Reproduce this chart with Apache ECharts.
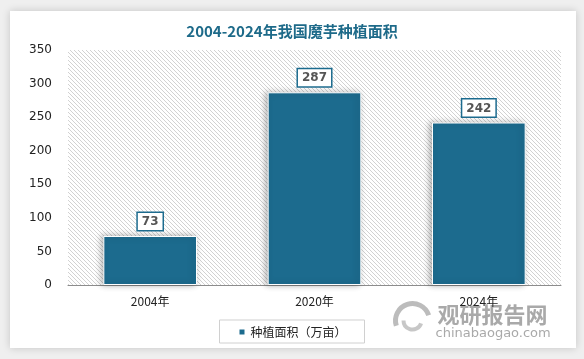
<!DOCTYPE html>
<html><head><meta charset="utf-8">
<script src="https://cdn.jsdelivr.net/npm/echarts@6/dist/echarts.min.js"></script>
<style>html,body{margin:0;padding:0;background:#efefef;}#c{width:584px;height:359px;}</style>
</head><body><div id="c"></div>
<script>
const categories = ['2004年', '2020年', '2024年'];
const values = [73, 287, 242];
const seriesName = '种植面积（万亩）';
const titleText = '2004-2024年我国魔芋种植面积';

const pc = document.createElement('canvas');
pc.width = 4; pc.height = 4;
const g = pc.getContext('2d');
g.fillStyle = '#ffffff'; g.fillRect(0,0,4,4);
g.fillStyle = '#d2d2d2';
for (let i = 0; i < 4; i++) { g.fillRect(i, i, 1, 1); }

const chart = echarts.init(document.getElementById('c'));
chart.setOption({
  backgroundColor: '#efefef',
  graphic: [{
    type: 'rect', left: 10, top: 11, z: -10,
    shape: {width: 566, height: 337},
    style: {fill: '#ffffff', shadowBlur: 8, shadowColor: 'rgba(0,0,0,0.18)'}
  }, {
    type: 'group', left: 393, top: 301, z: 10,
    children: [
      {type: 'arc', shape: {cx: 22, cy: 17, r: 17, startAngle: Math.PI * 0.9, endAngle: Math.PI * 1.9}, style: {stroke: 'rgba(160,160,160,0.7)', lineWidth: 5, fill: null}},
      {type: 'arc', shape: {cx: 22, cy: 17, r: 9, startAngle: Math.PI * 0.1, endAngle: Math.PI * 1.0}, style: {stroke: 'rgba(175,175,175,0.7)', lineWidth: 4, fill: null}},
      {type: 'text', left: 47, top: 0, style: {text: '观研报告网', font: 'bold 22px "Noto Sans CJK SC"', fill: 'rgba(140,140,140,0.75)'}},
      {type: 'text', left: 45, top: 24, style: {text: 'chinabaogao.com', font: '13px "DejaVu Sans"', fill: 'rgba(140,140,140,0.75)'}}
    ]
  }],
  title: {
    text: titleText, left: 'center', top: 19,
    textStyle: {color: '#1d6a89', fontSize: 15, fontWeight: 'bold', fontFamily: '"Noto Sans CJK SC", sans-serif'}
  },
  grid: {
    left: 68, right: 23, top: 50, bottom: 74,
    show: true, borderWidth: 0,
    backgroundColor: {image: pc, repeat: 'repeat'}
  },
  legend: {
    bottom: 16, left: 'center',
    data: [seriesName],
    icon: 'rect', itemWidth: 7, itemHeight: 7, itemGap: 6,
    borderColor: '#d0d0d0', borderWidth: 1, padding: [6, 18, 5, 18],
    textStyle: {color: '#222', fontSize: 12, fontFamily: '"Noto Sans CJK SC", sans-serif'}
  },
  xAxis: {
    type: 'category', data: categories,
    axisLine: {lineStyle: {color: '#8c8c8c', width: 1}},
    axisTick: {show: false},
    axisLabel: {color: '#222', fontSize: 12, margin: 10, fontFamily: '"Noto Sans CJK SC", sans-serif'}
  },
  yAxis: {
    type: 'value', min: 0, max: 350, interval: 50,
    axisLine: {show: false}, axisTick: {show: false},
    splitLine: {show: false},
    axisLabel: {color: '#222', fontSize: 12, margin: 16, fontFamily: '"DejaVu Sans", sans-serif'}
  },
  series: [{
    name: seriesName, type: 'bar', data: values,
    barWidth: '57%',
    itemStyle: {color: '#1c6b8e', borderColor: '#ffffff', borderWidth: 1,
      shadowBlur: 6, shadowColor: 'rgba(0,0,0,0.3)', shadowOffsetX: -2, shadowOffsetY: 0},
    label: {
      show: true, position: 'top', distance: 6,
      color: '#555', fontSize: 12, fontWeight: 'bold', fontFamily: '"DejaVu Sans", sans-serif',
      backgroundColor: '#fff', borderColor: '#1c6b8e', borderWidth: 1.5,
      padding: [3, 4, 2, 4]
    }
  }]
});
</script></body></html>
